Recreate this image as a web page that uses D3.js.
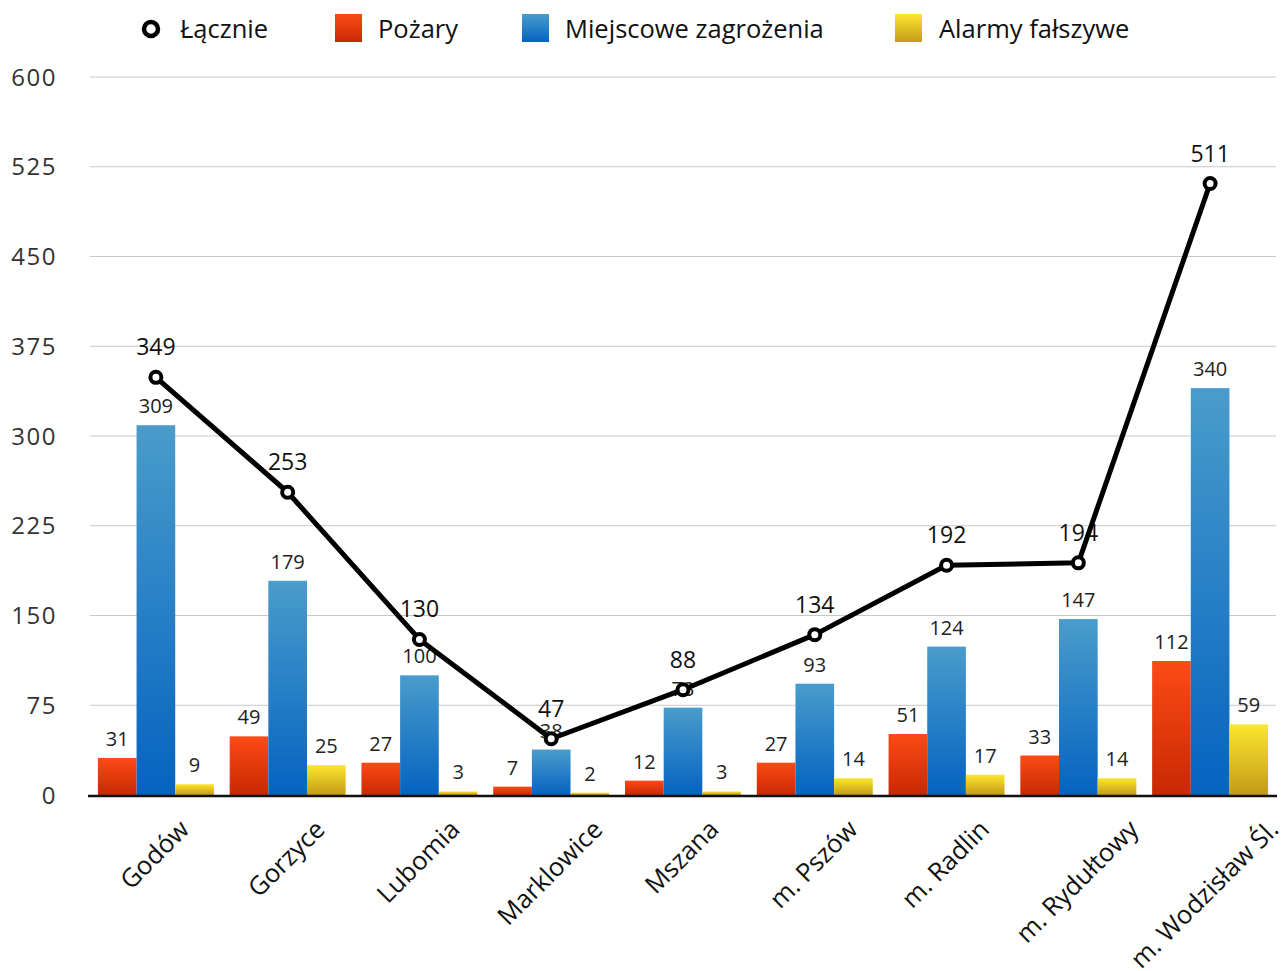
<!DOCTYPE html>
<html><head><meta charset="utf-8">
<script src="https://cdn.jsdelivr.net/npm/d3@7/dist/d3.min.js"></script>
<style>
html,body{margin:0;padding:0;background:#fff;}
text{font-family:"Open Sans","Noto Sans",sans-serif;}
</style></head>
<body><svg id="c" width="1286" height="971"></svg>
<script>
const categories = ["Godów","Gorzyce","Lubomia","Marklowice","Mszana","m. Pszów","m. Radlin","m. Rydułtowy","m. Wodzisław Śl."];
const pozary = [31,49,27,7,12,27,51,33,112];
const miejscowe = [309,179,100,38,73,93,124,147,340];
const alarmy = [9,25,3,2,3,14,17,14,59];
const lacznie = [349,253,130,47,88,134,192,194,511];
const yTicks = [0,75,150,225,300,375,450,525,600];
const seriesNames = ["Łącznie","Pożary","Miejscowe zagrożenia","Alarmy fałszywe"];

const svg = d3.select("#c");
const x0 = d3.scaleBand().domain(categories).range([90,1276]).paddingInner(0.12).paddingOuter(0.06);
const y = d3.scaleLinear().domain([0,600]).range([795,77]);
const barSeries = [
  {name:"Pożary", vals:pozary, grad:"gR", c1:"#fc4b15", c2:"#c92804"},
  {name:"Miejscowe zagrożenia", vals:miejscowe, grad:"gB", c1:"#4a9ccb", c2:"#0563c1"},
  {name:"Alarmy fałszywe", vals:alarmy, grad:"gY", c1:"#fde62f", c2:"#c39b17"}
];
const x1 = d3.scaleBand().domain(barSeries.map(d=>d.name)).range([0,x0.bandwidth()]).padding(0);

const defs = svg.append("defs");
barSeries.forEach(s=>{
  const g = defs.append("linearGradient").attr("id",s.grad).attr("x1",0).attr("y1",0).attr("x2",0).attr("y2",1);
  g.append("stop").attr("offset","0%").attr("stop-color",s.c1);
  g.append("stop").attr("offset","100%").attr("stop-color",s.c2);
});

// gridlines
svg.append("g").selectAll("line").data(yTicks.filter(t=>t>0)).join("line")
  .attr("x1",90).attr("x2",1276).attr("y1",d=>y(d)).attr("y2",d=>y(d))
  .attr("stroke","#c8c8c8").attr("stroke-width",1);

// y labels
svg.append("g").selectAll("text").data(yTicks).join("text")
  .attr("x",57).attr("y",d=>y(d)).attr("dy","0.36em").attr("text-anchor","end")
  .attr("font-size",24).attr("letter-spacing",1.5).attr("fill","#333").text(d=>d);

// bars
barSeries.forEach(s=>{
  svg.append("g").selectAll("rect").data(categories).join("rect")
    .attr("x",(c)=>x0(c)+x1(s.name))
    .attr("width",x1.bandwidth())
    .attr("y",(c,i)=>y(s.vals[i]))
    .attr("height",(c,i)=>y(0)-y(s.vals[i]))
    .attr("fill",`url(#${s.grad})`);
});
// bar labels
barSeries.forEach(s=>{
  svg.append("g").selectAll("text").data(categories).join("text")
    .attr("x",(c)=>x0(c)+x1(s.name)+x1.bandwidth()/2)
    .attr("y",(c,i)=>y(s.vals[i])-12)
    .attr("text-anchor","middle").attr("font-size",20).attr("fill","#222")
    .text((c,i)=>s.vals[i]);
});

// axis line
svg.append("line").attr("x1",88).attr("x2",1277).attr("y1",y(0)+1).attr("y2",y(0)+1)
  .attr("stroke","#111").attr("stroke-width",2.5);

const cx = c=>x0(c)+x0.bandwidth()/2;
// total labels
svg.append("g").selectAll("text").data(categories).join("text")
  .attr("x",cx).attr("y",(c,i)=>y(lacznie[i])-22)
  .attr("text-anchor","middle").attr("font-size",23).attr("fill","#111")
  .text((c,i)=>lacznie[i]);

// line
const line = d3.line().x((d,i)=>cx(categories[i])).y(d=>y(d));
svg.append("path").datum(lacznie).attr("d",line).attr("fill","none")
  .attr("stroke","#000").attr("stroke-width",5).attr("stroke-linejoin","round");
svg.append("g").selectAll("circle").data(lacznie).join("circle")
  .attr("cx",(d,i)=>cx(categories[i])).attr("cy",d=>y(d)).attr("r",5.5)
  .attr("fill","#fff").attr("stroke","#000").attr("stroke-width",4);

// category labels
const labG = svg.append("g");
categories.forEach(c=>{
  const t = labG.append("text").attr("font-size",25.5).attr("fill","#111").attr("text-anchor","end").text(c);
  const L = t.node().getComputedTextLength();
  const px = Math.min(cx(c) + L*Math.SQRT1_2/2 + 5, 1280);
  const py = 831;
  t.attr("transform",`translate(${px},${py}) rotate(-45)`);
});

// legend
const leg = svg.append("g");
leg.append("circle").attr("cx",151).attr("cy",29).attr("r",7).attr("fill","#fff").attr("stroke","#000").attr("stroke-width",4.5);
leg.append("text").attr("x",180).attr("y",29).attr("dy","0.35em").attr("font-size",25.5).attr("fill","#111").text(seriesNames[0]);
const legItems = [{x:335,tx:378,g:"gR",n:seriesNames[1]},{x:522,tx:565,g:"gB",n:seriesNames[2]},{x:895,tx:939,g:"gY",n:seriesNames[3]}];
legItems.forEach(d=>{
  leg.append("rect").attr("x",d.x).attr("y",14).attr("width",27).attr("height",28).attr("fill",`url(#${d.g})`);
  leg.append("text").attr("x",d.tx).attr("y",29).attr("dy","0.35em").attr("font-size",25.5).attr("fill","#111").text(d.n);
});
</script></body></html>
